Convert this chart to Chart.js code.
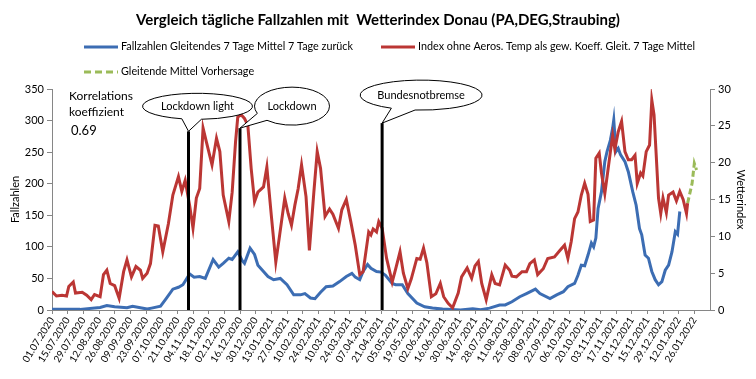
<!DOCTYPE html>
<html>
<head>
<meta charset="utf-8">
<script src="https://cdn.jsdelivr.net/npm/chart.js@4.4.1/dist/chart.umd.min.js"></script>
<style>
  html, body { margin: 0; padding: 0; background: #fff; }
</style>
</head>
<body>
<canvas id="grafik" width="756" height="379"></canvas>
<script>
// Tage seit 01.07.2020
const tickLabels = ['01.07.2020', '15.07.2020', '29.07.2020', '12.08.2020', '26.08.2020', '09.09.2020', '23.09.2020',
  '07.10.2020', '21.10.2020', '04.11.2020', '18.11.2020', '02.12.2020', '16.12.2020', '30.12.2020', '13.01.2021',
  '27.01.2021', '10.02.2021', '24.02.2021', '10.03.2021', '24.03.2021', '07.04.2021', '21.04.2021', '05.05.2021',
  '19.05.2021', '02.06.2021', '16.06.2021', '30.06.2021', '14.07.2021', '28.07.2021', '11.08.2021', '25.08.2021',
  '08.09.2021', '22.09.2021', '06.10.2021', '20.10.2021', '03.11.2021', '17.11.2021', '01.12.2021', '15.12.2021',
  '29.12.2021', '12.01.2022', '26.01.2022'];

const faelleTage = [0, 25, 43, 49, 56, 67, 72, 85, 89, 97, 102, 108, 113, 117, 123, 127, 132, 137, 144, 149,
  153, 158, 161, 166, 170, 172, 177, 181, 184, 189, 193, 198, 204, 210, 216, 222, 226, 231, 235, 240,
  245, 251, 257, 263, 268, 271, 275, 278, 282, 285, 290, 294, 298, 304, 307, 313, 318, 326, 333, 340,
  349, 365, 376, 383, 391, 400, 405, 411, 418, 424, 432, 436, 445, 451, 457, 461, 467, 470, 473, 476,
  479, 482, 484, 486, 488, 491, 494, 496, 499, 501, 502, 504, 506, 508, 512, 515, 519, 522, 525, 527,
  530, 533, 536, 539, 542, 545, 548, 551, 554, 557, 559, 561];
const faelleWerte = [1, 1, 4, 7, 5, 3.5, 6, 1.5, 3, 6, 18, 33, 36, 40, 57, 52, 53, 50, 80, 68,
  74, 82, 80, 92, 78, 74, 98, 88, 71, 61, 53, 48, 50, 40, 24, 24, 26, 19, 18, 28,
  37, 38, 45, 53, 58, 52, 48, 61, 72, 66, 61, 60, 55, 42, 40, 40, 26, 11, 5, 3,
  1.5, 0, 2, 0.5, 3, 8, 8, 13, 21, 26, 33, 26, 18, 24, 29, 37, 42, 55, 71, 70,
  87, 106, 100, 114, 161, 187, 235, 251, 269, 288, 301, 251, 256, 246, 235, 219, 187, 166, 129, 119,
  87, 82, 61, 48, 40, 45, 63, 71, 92, 124, 120, 156];

const indexTage = [0, 4, 9, 13, 15, 19, 21, 27, 31, 35, 38, 43, 46, 49, 52, 56, 60, 64, 67, 71,
  75, 79, 81, 85, 88, 92, 95, 99, 104, 108, 113, 116, 119, 123, 126, 129, 132, 135, 138, 143,
  147, 150, 153, 158, 161, 164, 166, 169, 172, 175, 178, 181, 184, 189, 192, 196, 200, 203, 208, 211,
  214, 217, 220, 223, 227, 230, 234, 237, 240, 244, 248, 251, 256, 259, 263, 267, 271, 275, 278, 283,
  285, 287, 290, 292, 295, 299, 304, 307, 311, 314, 318, 321, 326, 329, 332, 335, 339, 343, 347, 350,
  354, 358, 363, 366, 371, 375, 378, 381, 384, 388, 393, 396, 400, 405, 409, 411, 415, 420, 424, 427,
  431, 434, 439, 443, 449, 454, 458, 461, 464, 467, 470, 473, 476, 479, 481, 484, 486, 489, 491, 494,
  497, 499, 501, 503, 506, 509, 512, 515, 518, 521, 523, 526, 528, 531, 534, 536, 538, 542, 544, 546,
  549, 551, 555, 558, 561, 564, 567, 568];
const indexWerte = [2.5, 1.9, 2.0, 1.9, 3.2, 3.8, 2.3, 2.4, 2.0, 1.4, 2.1, 1.8, 4.8, 5.4, 3.6, 3.3, 1.6, 5.2, 6.8, 4.5,
  5.9, 5.4, 4.3, 5.0, 6.3, 11.5, 11.4, 7.9, 11.7, 15.6, 18.1, 16.1, 17.6, 14.2, 11.1, 15.2, 16.5, 24.7, 22.8, 19.7,
  23.3, 21.5, 15.6, 12.0, 16.0, 22.8, 26.2, 26.5, 26.0, 25.1, 19.2, 14.7, 16.0, 16.7, 19.4, 12.8, 6.5, 9.7, 15.2, 13.1,
  11.5, 14.2, 16.5, 19.7, 15.4, 8.1, 16.0, 21.5, 19.2, 12.7, 13.7, 13.0, 11.1, 13.6, 15.0, 12.0, 8.8, 4.8, 5.2, 10.6,
  10.2, 11.0, 10.6, 12.0, 11.1, 7.0, 3.8, 5.5, 7.9, 5.0, 2.9, 4.2, 7.0, 6.9, 8.4, 6.4, 1.8, 2.2, 3.6, 1.8,
  0.9, 0.3, 2.3, 4.5, 5.7, 4.3, 6.0, 6.6, 3.6, 1.4, 4.8, 3.6, 3.4, 6.1, 5.4, 4.6, 4.5, 5.2, 5.2, 6.3,
  6.8, 4.8, 5.6, 7.0, 7.2, 8.1, 8.8, 7.0, 9.3, 12.4, 13.3, 15.6, 17.2, 15.7, 12.0, 12.2, 20.6, 21.3, 18.6, 15.8,
  19.2, 21.5, 23.7, 21.8, 24.2, 25.6, 21.5, 20.4, 20.4, 21.0, 17.2, 18.6, 18.2, 21.5, 22.4, 28.5, 26.5, 15.2, 13.1, 15.2,
  13.2, 15.6, 16.0, 14.8, 16.1, 15.0, 13.1, 14.5];

const prognoseTage = [568, 572, 574, 576];
const prognoseWerte = [14.5, 17.2, 19.9, 19.0];

// Ereignisse: Tag, Text, Hoehe der Linie (Fallzahlen-Achse)
const ereignisTage = [122, 168, 295];
const ereignisTexte = ['Lockdown light', 'Lockdown', 'Bundesnotbremse'];
const ereignisHoehe = [283, 288, 296];

const korrelation = '0.69';

const schrift = 'Lato, "Open Sans", sans-serif';
const blau = '#3c6db3';
const rot = '#bb3634';
const gruen = '#9bbb59';

function punkte(tage, werte) {
  return tage.map((t, i) => ({ x: t, y: werte[i] }));
}

// Form der Sprechblasen relativ zur Linienspitze
const blasen = [
  { dx: 9, dy: -25, rx: 55, ry: 13, a1: 1.50, a2: 1.86 },
  { dx: 52, dy: -22, rx: 37.5, ry: 19, a1: 2.30, a2: 2.75 },
  { dx: 39, dy: -28, rx: 61, ry: 15, a1: 1.67, a2: 2.08 }
];

const zeichnung = {
  id: 'zeichnung',
  afterDatasetsDraw(chart) {
    const ctx = chart.ctx;
    const x = chart.scales.x;
    const y = chart.scales.y;
    ctx.save();
    ereignisTage.forEach((tag, i) => {
      const px = x.getPixelForValue(tag);
      const top = y.getPixelForValue(ereignisHoehe[i]);
      ctx.strokeStyle = '#000';
      ctx.lineWidth = 3;
      ctx.beginPath();
      ctx.moveTo(px, y.getPixelForValue(0));
      ctx.lineTo(px, top);
      ctx.stroke();

      const b = blasen[i];
      const cx = px + b.dx, cy = top + b.dy;
      ctx.beginPath();
      ctx.ellipse(cx, cy, b.rx, b.ry, 0, b.a2, b.a1 + Math.PI * 2);
      ctx.lineTo(px, top);
      ctx.closePath();
      ctx.fillStyle = '#fff';
      ctx.fill();
      ctx.lineWidth = 1;
      ctx.stroke();
      ctx.fillStyle = '#000';
      ctx.font = '11px ' + schrift;
      ctx.textAlign = 'center';
      ctx.textBaseline = 'middle';
      ctx.fillText(ereignisTexte[i], cx, cy);
    });

    // Korrelationskoeffizient
    ctx.textAlign = 'left';
    ctx.textBaseline = 'middle';
    ctx.font = '12px ' + schrift;
    ctx.fillText('Korrelations', 69, 96);
    ctx.fillText('koeffizient', 69, 112);
    ctx.font = '13px ' + schrift;
    ctx.fillText(korrelation, 71, 131);
    ctx.restore();
  },
  afterDraw(chart) {
    const ctx = chart.ctx;
    const eintraege = [
      { x: 84, y: 47, farbe: blau, strich: [], text: 'Fallzahlen Gleitendes 7 Tage Mittel 7 Tage zurück' },
      { x: 381, y: 47, farbe: rot, strich: [], text: 'Index ohne Aeros. Temp als gew. Koeff. Gleit. 7 Tage Mittel' },
      { x: 84, y: 72, farbe: gruen, strich: [7, 4], text: 'Gleitende Mittel Vorhersage' }
    ];
    ctx.save();
    eintraege.forEach(e => {
      ctx.strokeStyle = e.farbe;
      ctx.lineWidth = 3;
      ctx.setLineDash(e.strich);
      ctx.beginPath();
      ctx.moveTo(e.x, e.y);
      ctx.lineTo(e.x + 34, e.y);
      ctx.stroke();
      ctx.setLineDash([]);
      ctx.fillStyle = '#000';
      ctx.font = '10.8px ' + schrift;
      ctx.textAlign = 'left';
      ctx.textBaseline = 'middle';
      ctx.fillText(e.text, e.x + 37, e.y);
    });
    ctx.restore();
  }
};

const achsenFarbe = '#868686';

new Chart(document.getElementById('grafik'), {
  type: 'line',
  data: {
    datasets: [
      {
        label: 'Gleitende Mittel Vorhersage',
        data: punkte(prognoseTage, prognoseWerte),
        yAxisID: 'y1',
        borderColor: gruen,
        borderDash: [6, 3],
        borderWidth: 3,
        pointRadius: 0,
        order: 0
      },
      {
        label: 'Index ohne Aeros. Temp als gew. Koeff. Gleit. 7 Tage Mittel',
        data: punkte(indexTage, indexWerte),
        yAxisID: 'y1',
        borderColor: rot,
        borderWidth: 3,
        pointRadius: 0,
        order: 1
      },
      {
        label: 'Fallzahlen Gleitendes 7 Tage Mittel 7 Tage zurück',
        data: punkte(faelleTage, faelleWerte),
        yAxisID: 'y',
        borderColor: blau,
        borderWidth: 3,
        pointRadius: 0,
        order: 2
      }
    ]
  },
  options: {
    responsive: false,
    animation: false,
    devicePixelRatio: 1,
    layout: { padding: 0 },
    plugins: {
      legend: { display: false },
      tooltip: { enabled: false },
      title: {
        display: true,
        text: 'Vergleich tägliche Fallzahlen mit  Wetterindex Donau (PA,DEG,Straubing)',
        color: '#000',
        font: { family: schrift, size: 15, weight: 'bold' },
        padding: { top: 11, bottom: 60 }
      }
    },
    scales: {
      x: {
        type: 'linear',
        min: 0,
        max: 588,
        afterFit: s => { s.height = 69; },
        grid: { drawOnChartArea: false, color: achsenFarbe, tickLength: 4 },
        border: { color: achsenFarbe },
        ticks: {
          stepSize: 14,
          autoSkip: false,
          maxRotation: 58,
          minRotation: 58,
          padding: 1,
          color: '#000',
          font: { family: schrift, size: 10 },
          callback: v => {
            const t = tickLabels[Math.round(v / 14)];
            return t === undefined ? null : t;
          }
        }
      },
      y: {
        position: 'left',
        min: 0,
        max: 350,
        afterFit: s => { s.width = 52; },
        grid: { drawOnChartArea: false, color: achsenFarbe, tickLength: 5 },
        border: { color: achsenFarbe },
        ticks: { stepSize: 50, color: '#000', padding: 3, font: { family: schrift, size: 11 } },
        title: { display: true, text: 'Fallzahlen', color: '#000', padding: { top: 9 }, font: { family: schrift, size: 11 } }
      },
      y1: {
        position: 'right',
        min: 0,
        max: 30,
        afterFit: s => { s.width = 46; },
        grid: { drawOnChartArea: false, color: achsenFarbe, tickLength: 5 },
        border: { color: achsenFarbe },
        ticks: { stepSize: 5, color: '#000', padding: 3, font: { family: schrift, size: 11 } },
        title: { display: true, text: 'Wetterindex', color: '#000', padding: { top: 9 }, font: { family: schrift, size: 11 } }
      }
    }
  },
  plugins: [zeichnung]
});
</script>
</body>
</html>
